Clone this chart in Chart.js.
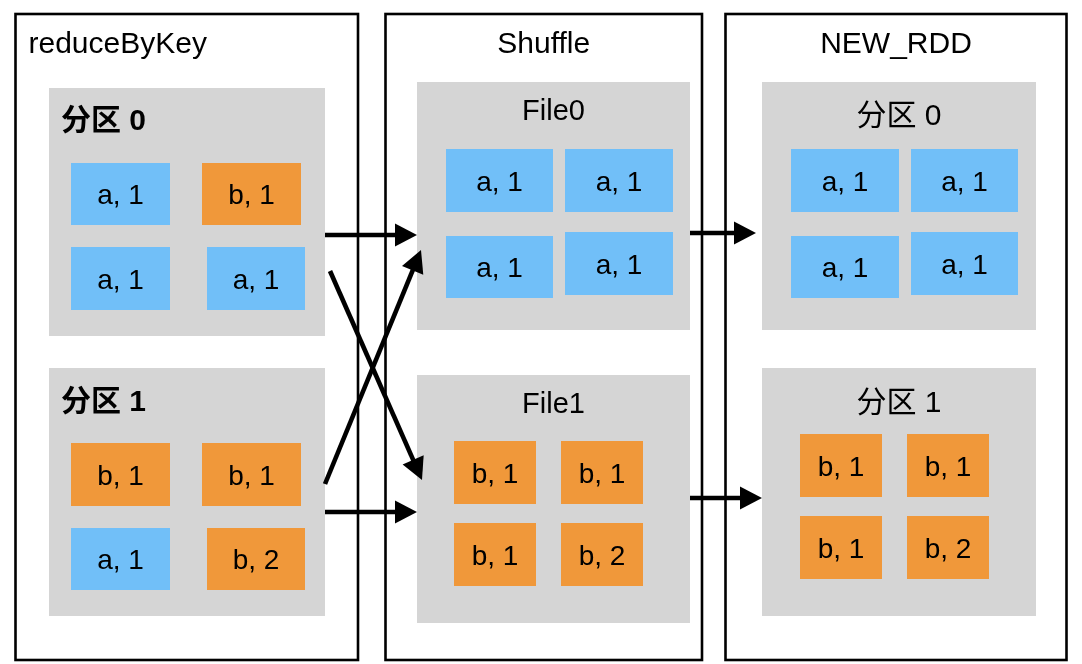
<!DOCTYPE html>
<html>
<head>
<meta charset="utf-8">
<script src="https://cdn.jsdelivr.net/npm/chart.js@4/dist/chart.umd.min.js"></script>
<style>
html,body{margin:0;padding:0;background:#fff;}
#wrap{width:1082px;height:664px;position:relative;}
</style>
</head>
<body>
<div id="wrap"><canvas id="c" width="1082" height="664"></canvas></div>
<script>
// ---- data (diagram coordinates) ----
const frameTitles = ['reduceByKey', 'Shuffle', 'NEW_RDD'];
const frameLeft   = [15.5, 385.5, 725.5];
const frameRight  = [358, 702, 1066.5];
const frameTop    = [14, 14, 14];
const frameBottom = [660, 660, 660];

const groupTitles = ['分区 0', '分区 1', 'File0', 'File1', '分区 0', '分区 1'];
const groupLeft   = [49, 49, 417, 417, 762, 762];
const groupRight  = [325, 325, 690, 690, 1036, 1036];
const groupTop    = [88, 368, 82, 375, 82, 368];
const groupBottom = [336, 616, 330, 623, 330, 616];
const groupTitleY = [130, 411, 120, 413, 125, 412];

const itemKeys   = ['a','b','a','a', 'b','b','a','b', 'a','a','a','a', 'b','b','b','b', 'a','a','a','a', 'b','b','b','b'];
const itemValues = [1,1,1,1, 1,1,1,2, 1,1,1,1, 1,1,1,2, 1,1,1,1, 1,1,1,2];
const itemLeft   = [71,202,71,207, 71,202,71,207, 446,565,446,565, 454,561,454,561, 791,911,791,911, 800,907,800,907];
const itemRight  = [170,301,170,305, 170,301,170,305, 553,673,553,673, 536,643,536,643, 899,1018,899,1018, 882,989,882,989];
const itemTop    = [163,163,247,247, 443,443,528,528, 149,149,236,232, 441,441,523,523, 149,149,236,232, 434,434,516,516];
const itemBottom = [225,225,310,310, 506,506,590,590, 212,212,298,295, 504,504,586,586, 212,212,298,295, 497,497,579,579];

const arrowFromX = [325, 330, 325, 325, 690, 690];
const arrowFromY = [235, 271, 484, 512, 233, 498];
const arrowToX   = [417, 422, 421, 417, 756, 762];
const arrowToY   = [235, 480, 250, 512, 233, 498];

// ---- styles ----
const FONT = "'Liberation Sans', Arial, 'Noto Sans CJK SC', sans-serif";
const keyColors = { a: '#71BFF8', b: '#F0983A' };
const groupColor = '#D5D5D5';

const diagramPlugin = {
  id: 'diagram',
  beforeDatasetsDraw(chart) {
    const ctx = chart.ctx;
    const xs = chart.scales.x, ys = chart.scales.y;
    const X = v => xs.getPixelForValue(v);
    const Y = v => ys.getPixelForValue(v);
    ctx.save();
    // frames
    ctx.strokeStyle = '#000';
    ctx.lineWidth = 2.6;
    frameTitles.forEach((t, i) => {
      ctx.strokeRect(X(frameLeft[i]), Y(frameTop[i]), X(frameRight[i]) - X(frameLeft[i]), Y(frameBottom[i]) - Y(frameTop[i]));
      ctx.fillStyle = '#000';
      ctx.font = '30px ' + FONT;
      ctx.textBaseline = 'alphabetic';
      if (i === 0) {
        ctx.textAlign = 'left';
        ctx.fillText(t, X(frameLeft[i] + 13), Y(53));
      } else {
        ctx.textAlign = 'center';
        ctx.fillText(t, X((frameLeft[i] + frameRight[i]) / 2), Y(53));
      }
    });
    // groups
    groupTitles.forEach((t, i) => {
      ctx.fillStyle = groupColor;
      ctx.fillRect(X(groupLeft[i]), Y(groupTop[i]), X(groupRight[i]) - X(groupLeft[i]), Y(groupBottom[i]) - Y(groupTop[i]));
      ctx.fillStyle = '#000';
      ctx.textBaseline = 'alphabetic';
      if (i < 2) {
        ctx.font = 'bold 30px ' + FONT;
        ctx.textAlign = 'left';
        ctx.fillText(t, X(groupLeft[i] + 12), Y(groupTitleY[i]));
      } else {
        ctx.font = (i < 4 ? '29px ' : '30px ') + FONT;
        ctx.textAlign = 'center';
        ctx.fillText(t, X((groupLeft[i] + groupRight[i]) / 2), Y(groupTitleY[i]));
      }
    });
    // items
    itemKeys.forEach((k, i) => {
      ctx.fillStyle = keyColors[k];
      ctx.fillRect(X(itemLeft[i]), Y(itemTop[i]), X(itemRight[i]) - X(itemLeft[i]), Y(itemBottom[i]) - Y(itemTop[i]));
      ctx.fillStyle = '#000';
      ctx.font = '28px ' + FONT;
      ctx.textAlign = 'center';
      ctx.textBaseline = 'alphabetic';
      const cx = (itemLeft[i] + itemRight[i]) / 2;
      const cy = (itemTop[i] + itemBottom[i]) / 2;
      ctx.fillText(k + ', ' + itemValues[i], X(cx), Y(cy + 10));
    });
    // arrows
    arrowFromX.forEach((fx, i) => {
      const x1 = X(fx), y1 = Y(arrowFromY[i]), x2 = X(arrowToX[i]), y2 = Y(arrowToY[i]);
      const ang = Math.atan2(y2 - y1, x2 - x1);
      const L = 22, W = 11.5;
      const bx = x2 - L * Math.cos(ang), by = y2 - L * Math.sin(ang);
      ctx.strokeStyle = '#000';
      ctx.lineWidth = 4.6;
      ctx.lineCap = 'butt';
      ctx.beginPath();
      ctx.moveTo(x1, y1);
      ctx.lineTo(bx + 2 * Math.cos(ang), by + 2 * Math.sin(ang));
      ctx.stroke();
      ctx.fillStyle = '#000';
      ctx.beginPath();
      ctx.moveTo(x2, y2);
      ctx.lineTo(bx - W * Math.sin(ang), by + W * Math.cos(ang));
      ctx.lineTo(bx + W * Math.sin(ang), by - W * Math.cos(ang));
      ctx.closePath();
      ctx.fill();
    });
    ctx.restore();
  }
};

new Chart(document.getElementById('c'), {
  type: 'scatter',
  data: { datasets: [{ data: [], pointRadius: 0 }] },
  options: {
    responsive: false,
    animation: false,
    events: [],
    layout: { padding: 0 },
    plugins: { legend: { display: false }, tooltip: { enabled: false } },
    scales: {
      x: { type: 'linear', min: 0, max: 1082, display: false },
      y: { type: 'linear', min: 0, max: 664, reverse: true, display: false }
    }
  },
  plugins: [diagramPlugin]
});
</script>
</body>
</html>
